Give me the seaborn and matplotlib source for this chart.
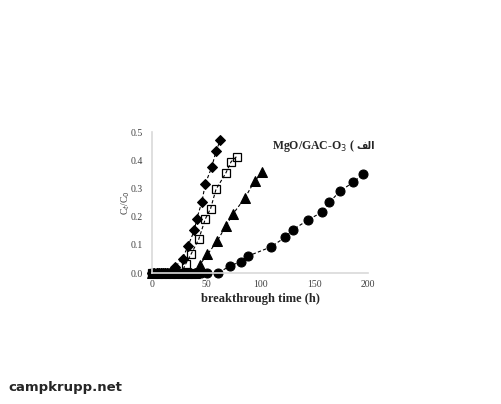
import numpy as np
import pandas as pd
import seaborn as sns
import matplotlib.pyplot as plt

sns.set_style('white')
plt.rcParams['font.family'] = ['Liberation Serif', 'DejaVu Sans']

# Breakthrough curves (time in h, Ct/C0)
t_diamond = [0, 2, 4, 6, 8, 10, 12, 14, 16, 18, 21, 28, 33, 39, 41, 46, 49, 55, 59, 63]
c_diamond = [0, 0, 0, 0, 0, 0, 0, 0, 0, 0, 0.021, 0.051, 0.096, 0.152, 0.191, 0.253, 0.316, 0.375, 0.432, 0.472]

t_square = [0, 3, 6, 9, 12, 15, 18, 21, 24, 27, 31, 36, 43, 49, 54, 59, 68, 73, 78]
c_square = [0, 0, 0, 0, 0, 0, 0, 0, 0, 0, 0.033, 0.068, 0.12, 0.191, 0.229, 0.297, 0.354, 0.395, 0.413]

t_triangle = [0, 4, 8, 12, 16, 20, 24, 28, 32, 36, 40, 44, 51, 60, 68, 75, 86, 95, 102]
c_triangle = [0, 0, 0, 0, 0, 0, 0, 0, 0, 0, 0, 0.03, 0.066, 0.113, 0.166, 0.211, 0.268, 0.328, 0.357]

t_circle = [0, 5, 10, 15, 20, 25, 30, 35, 40, 45, 51, 61, 72, 82, 89, 110, 123, 130, 144, 157, 164, 174, 186, 195]
c_circle = [0, 0, 0, 0, 0, 0, 0, 0, 0, 0, 0, 0, 0.026, 0.04, 0.061, 0.093, 0.127, 0.153, 0.188, 0.216, 0.251, 0.291, 0.322, 0.35]

x_ticks = [0, 50, 100, 150, 200]
y_ticks = [0.0, 0.1, 0.2, 0.3, 0.4, 0.5]

fig = plt.figure(figsize=(5.01, 4.04), dpi=100)
ax = fig.add_axes([0.304, 0.324, 0.431, 0.349])

series = [
    (t_diamond, c_diamond, dict(marker='D', markersize=5, markerfacecolor='black')),
    (t_square, c_square, dict(marker='s', markersize=6, markerfacecolor='none', markeredgewidth=0.9)),
    (t_triangle, c_triangle, dict(marker='^', markersize=6.5, markerfacecolor='black')),
    (t_circle, c_circle, dict(marker='o', markersize=6.5, markerfacecolor='black')),
]
for t, c, style in series:
    df = pd.DataFrame({'t': t, 'c': c})
    sns.lineplot(x='t', y='c', data=df, ax=ax, color='black', linestyle=(0, (3, 2)),
                 linewidth=0.8, markeredgecolor='black', clip_on=False, **style)

ax.set_xlim(0, 200)
ax.set_ylim(0, 0.5)
ax.set_xticks(x_ticks)
ax.set_yticks(y_ticks)
ax.set_yticklabels(['%.1f' % v for v in y_ticks])
ax.tick_params(axis='both', length=0, labelsize=7, labelcolor='#404040')
ax.tick_params(axis='y', pad=7)
ax.tick_params(axis='x', pad=5)
for side in ['top', 'right']:
    ax.spines[side].set_visible(False)
for side in ['left', 'bottom']:
    ax.spines[side].set_color('#d9d9d9')
    ax.spines[side].set_linewidth(1.2)

ax.set_xlabel('breakthrough time (h)', fontsize=9, fontweight='bold', labelpad=3)
ax.set_ylabel(r'C$_t$/C$_0$', fontsize=7, color='#404040', labelpad=-1)

label = ax.text(0.555, 0.905, 'MgO/GAC-O$_3$ (', transform=ax.transAxes,
                fontsize=8.5, fontweight='bold', ha='left', va='center')
ax.annotate('\ufed2\ufedf\u0627', xy=(1, 0.5), xycoords=label, xytext=(1, 0),
            textcoords='offset points', ha='left', va='center',
            family='DejaVu Sans', fontsize=7, fontweight='bold')

fig.text(0.016, 0.04, 'campkrupp.net', family='DejaVu Sans', fontsize=9.5,
         fontweight='bold', ha='left', va='center')

plt.savefig('out.png', dpi=100)
